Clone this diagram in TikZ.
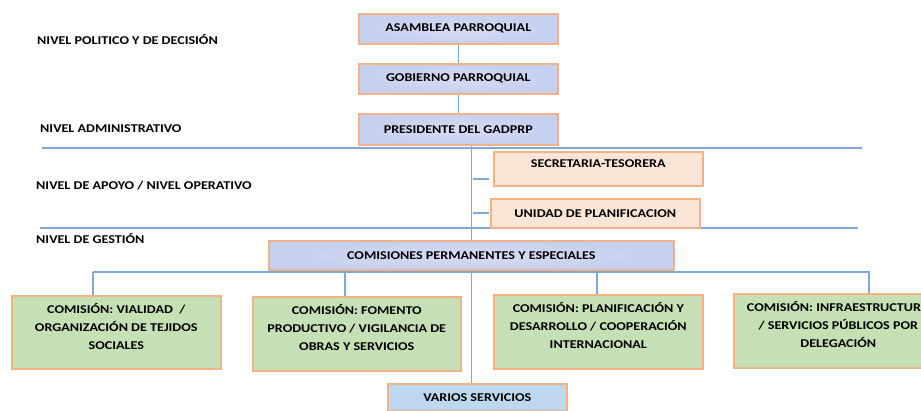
\documentclass[tikz,border=0pt]{standalone}
\usepackage{fontspec}
\setmainfont{Carlito}[BoldFont={Carlito Bold},FakeStretch=1.18]
\usetikzlibrary{backgrounds}
\definecolor{lav}{RGB}{218,218,244}
\definecolor{lavb}{RGB}{196,208,238}
\definecolor{peach}{RGB}{251,229,214}
\definecolor{greenbox}{RGB}{197,224,180}
\definecolor{bluebox}{RGB}{189,215,238}
\definecolor{bord}{RGB}{244,177,131}
\definecolor{conn}{RGB}{124,168,220}
\tikzset{
  base/.style={draw=bord,line width=1.6pt,align=center,font=\bfseries\fontsize{12}{14}\selectfont,inner sep=0pt,anchor=north west},
  lavbox/.style={base,inner color=lav,outer color=lavb},
  peachbox/.style={base,fill=peach},
  greenbox/.style={base,fill=greenbox,font=\bfseries\fontsize{12}{18}\selectfont,text depth=12bp},
  bluebx/.style={base,fill=bluebox},
  lvl/.style={anchor=west,inner sep=0pt,font=\bfseries\fontsize{12}{14}\selectfont},
  conn/.style={draw=conn,line width=1.1pt}
}
\begin{document}
\begin{tikzpicture}[x=1bp,y=-1bp]
\useasboundingbox (0,0) rectangle (921,410);
\clip (0,0) rectangle (921,410);
% level labels
\node[lvl] (l1) at (37,40) {NIVEL POLITICO Y DE DECISIÓN};
\node[lvl] (l2) at (40,129) {NIVEL ADMINISTRATIVO};
\node[lvl] (l3) at (36,186) {NIVEL DE APOYO / NIVEL OPERATIVO};
\node[lvl] (l4) at (36,239) {NIVEL DE GESTIÓN};
% boxes
\node[lavbox,minimum width=199bp,minimum height=30bp] (asam) at (358,13) {ASAMBLEA PARROQUIAL};
\node[lavbox,minimum width=199bp,minimum height=30bp] (gob) at (358,63) {GOBIERNO PARROQUIAL};
\node[lavbox,minimum width=199bp,minimum height=31bp] (pres) at (358,113) {PRESIDENTE DEL GADPRP};
\node[peachbox,minimum width=209bp,minimum height=34bp,text depth=11bp] (sec) at (493,151) {SECRETARIA-TESORERA};
\node[peachbox,minimum width=209bp,minimum height=29bp] (uni) at (490,198) {UNIDAD DE PLANIFICACION};
\node[lavbox,minimum width=405bp,minimum height=29bp] (com) at (268,240) {COMISIONES PERMANENTES Y ESPECIALES};
\node[greenbox,minimum width=209bp,minimum height=73bp] (c1) at (11,295) {COMISIÓN: VIALIDAD \ /\\ORGANIZACIÓN DE TEJIDOS\\SOCIALES};
\node[greenbox,minimum width=208bp,minimum height=74bp] (c2) at (252,296) {COMISIÓN: FOMENTO\\PRODUCTIVO / VIGILANCIA DE\\OBRAS Y SERVICIOS};
\node[greenbox,minimum width=209bp,minimum height=74bp] (c3) at (493,294) {COMISIÓN: PLANIFICACIÓN Y\\DESARROLLO / COOPERACIÓN\\INTERNACIONAL};
\node[greenbox,minimum width=209bp,minimum height=74bp] (c4) at (733,293) {COMISIÓN: INFRAESTRUCTURA\\/ SERVICIOS PÚBLICOS POR\\DELEGACIÓN};
\node[bluebx,minimum width=179bp,minimum height=27bp] (var) at (387,383) {VARIOS SERVICIOS};
% connectors
\begin{scope}[on background layer]
\coordinate (s1a) at (42,148); \coordinate (s1b) at (862,148);
\coordinate (s2a) at (40,228); \coordinate (s2b) at (858,228);
\draw[conn] (s1a) -- (s1b);
\draw[conn] (s2a) -- (s2b);
\draw[conn] (asam.south) ++(0.5,0) coordinate (a0) -- (a0 |- gob.north);
\draw[conn] (gob.south) ++(0.5,0) coordinate (g0) -- (g0 |- pres.north);
\coordinate (trunk) at (471.5,0);
\draw[conn] (trunk |- pres.south) -- (trunk |- var.north);
\coordinate (sL) at (473,179); \coordinate (sR) at (489,179);
\draw[conn] (sL) -- (sR);
\coordinate (uL) at (473,213); \coordinate (uR) at (489,213);
\draw[conn] (uL) -- (uR);
\coordinate (h0) at (93,272); \coordinate (h1) at (870,272);
\draw[conn] (h0) -- (h1);
\draw[conn] (h0) -- (h0 |- c1.north);
\draw[conn] (345,272) coordinate (d2) -- (d2 |- c2.north);
\draw[conn] (597,272) coordinate (d3) -- (d3 |- c3.north);
\draw[conn] (869,272) coordinate (d4) -- (d4 |- c4.north);
\end{scope}
\end{tikzpicture}
\end{document}
